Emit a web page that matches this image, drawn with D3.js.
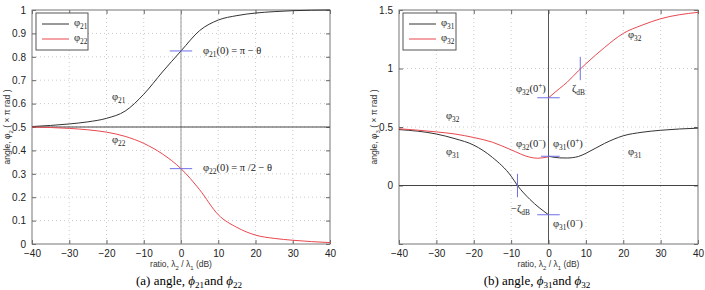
<!DOCTYPE html>
<meta charset="utf-8">
<style>
body { margin: 0; background: #fff; }
.tick text { font-family: "Liberation Sans", Arial, sans-serif; font-size: 10px; fill: #222; }
.lbl { font-family: "Liberation Serif", "Times New Roman", serif; font-size: 10.5px; fill: #222; }
.axl { font-family: "Liberation Sans", Arial, sans-serif; font-size: 8.5px; fill: #333; }
.cap { font-family: "Liberation Serif", "Times New Roman", serif; font-size: 13px; fill: #000; }
</style>
<svg width="705" height="290"></svg>
<script src="https://d3js.org/d3.v7.min.js"></script>
<script>

// ---- data ----
var xTicks = [-40, -30, -20, -10, 0, 10, 20, 30, 40];
var yTicksA = [0, 0.1, 0.2, 0.3, 0.4, 0.5, 0.6, 0.7, 0.8, 0.9, 1];
var yTickLabelsA = ["0", "0.1", "0.2", "0.3", "0.4", "0.5", "0.6", "0.7", "0.8", "0.9", "1"];
var yTicksB = [-0.5, 0, 0.5, 1, 1.5];
var yTickLabelsB = ["", "0", "0.5", "1", "1.5"];

// panel (a)
var dbA = [-40, -30, -25, -20, -15, -10, -5, 0, 5, 10, 15, 20, 25, 30, 40];
var phi21 = [0.502, 0.513, 0.522, 0.537, 0.568, 0.64, 0.735, 0.825, 0.912, 0.957, 0.976, 0.987, 0.993, 0.997, 1.0];
var phi22 = [0.5, 0.494, 0.488, 0.478, 0.46, 0.43, 0.385, 0.322, 0.232, 0.125, 0.071, 0.038, 0.024, 0.016, 0.006];

// panel (b), split at 0 dB
var dbNeg31 = [-40, -30, -25, -20, -15, -10, -8.3, -5, 0];
var phi31Neg = [0.478, 0.44, 0.40, 0.345, 0.24, 0.08, 0, -0.118, -0.25];
var dbNeg32 = [-40, -30, -25, -20, -15, -10, -5, -3, 0];
var phi32Neg = [0.485, 0.458, 0.44, 0.41, 0.37, 0.305, 0.242, 0.233, 0.245];
var dbPos = [0, 3, 5, 8, 10, 15, 20, 25, 30, 40];
var phi31Pos = [0.25, 0.236, 0.235, 0.248, 0.275, 0.36, 0.425, 0.455, 0.472, 0.49];
var phi32Pos = [0.75, 0.83, 0.883, 0.98, 1.04, 1.18, 1.30, 1.37, 1.425, 1.48];

var svg = d3.select("svg");

function zip(xs, ys) { return xs.map(function(x, i) { return [x, ys[i]]; }); }

// text with sub / superscripts: parts = [[str, mode]]
function rich(g, x, y, parts, cls, anchor) {
  var t = g.append("text").attr("class", cls).attr("x", x).attr("y", y)
    .attr("text-anchor", anchor || "start");
  var shift = 0;
  parts.forEach(function(p) {
    var target = p[1] === "sub" ? 3 : p[1] === "sup" ? -4 : 0;
    var ts = t.append("tspan").text(p[0]).attr("dy", target - shift);
    if (p[1] === "sub" || p[1] === "sup") ts.attr("font-size", "70%");
    if (p[1] === "i") ts.attr("font-style", "italic");
    shift = target;
  });
  return t;
}

function panel(opt) {
  var x = d3.scaleLinear().domain([-40, 40]).range([opt.x0, opt.x1]);
  var y = d3.scaleLinear().domain(opt.ydom).range([244, 10]);
  var g = svg.append("g");

  // dotted grid
  g.selectAll(".gx").data(xTicks.slice(1, -1)).enter().append("line")
    .attr("x1", d => x(d)).attr("x2", d => x(d)).attr("y1", 10).attr("y2", 244)
    .attr("stroke", "#ccc").attr("stroke-dasharray", "1,3");
  g.selectAll(".gy").data(opt.yticks.slice(1, -1)).enter().append("line")
    .attr("y1", d => y(d)).attr("y2", d => y(d)).attr("x1", opt.x0).attr("x2", opt.x1)
    .attr("stroke", "#ccc").attr("stroke-dasharray", "1,3");

  // axes with inside ticks
  var ax = d3.axisBottom(x).tickValues(xTicks).tickSizeInner(-4).tickSizeOuter(0).tickPadding(7);
  g.append("g").attr("transform", "translate(0,244)").call(ax);
  g.append("g").attr("transform", "translate(0,10)")
    .call(d3.axisTop(x).tickValues(xTicks).tickSizeInner(-4).tickSizeOuter(0).tickFormat(""));
  var ay = d3.axisLeft(y).tickValues(opt.yticks).tickSizeInner(-4).tickSizeOuter(0).tickPadding(6)
    .tickFormat((d, i) => opt.ylabels[i]);
  g.append("g").attr("transform", "translate(" + opt.x0 + ",0)").call(ay);
  g.append("g").attr("transform", "translate(" + opt.x1 + ",0)")
    .call(d3.axisRight(y).tickValues(opt.yticks).tickSizeInner(-4).tickSizeOuter(0).tickFormat(""));
  g.selectAll(".domain").remove();
  g.selectAll(".tick line").attr("stroke", "#666");
  g.selectAll(".tick text").filter(function() { return this.parentNode.parentNode.getAttribute("transform") === "translate(0,244)"; })
    .attr("dy", "0.55em");
  g.append("rect").attr("x", opt.x0).attr("y", 10).attr("width", opt.x1 - opt.x0).attr("height", 234)
    .attr("fill", "none").attr("stroke", "#777");

  // zero lines
  g.append("line").attr("x1", x(0)).attr("x2", x(0)).attr("y1", 10).attr("y2", 244)
    .attr("stroke", opt.vcol);
  g.append("line").attr("x1", opt.x0).attr("x2", opt.x1).attr("y1", y(opt.hline)).attr("y2", y(opt.hline))
    .attr("stroke", "#444");

  var line = d3.line().x(d => x(d[0])).y(d => y(d[1])).curve(d3.curveMonotoneX);
  opt.series.forEach(function(s) {
    g.append("path").attr("d", line(s.pts)).attr("fill", "none")
      .attr("stroke", s.color).attr("stroke-width", 1);
  });

  // blue markers
  opt.marks.forEach(function(m) {
    g.append("line").attr("stroke", "#6f6fe8").attr("stroke-width", 1)
      .attr("x1", x(m[0])).attr("x2", x(m[1])).attr("y1", y(m[2])).attr("y2", y(m[3]));
  });

  // legend
  var lg = g.append("g");
  lg.append("rect").attr("x", opt.x0 + 4).attr("y", 13).attr("width", opt.legW).attr("height", 37)
    .attr("fill", "#fff").attr("stroke", "#555");
  opt.legend.forEach(function(l, i) {
    var yy = 24 + i * 15;
    lg.append("line").attr("x1", opt.x0 + 10).attr("x2", opt.x0 + 37).attr("y1", yy).attr("y2", yy)
      .attr("stroke", l.color);
    rich(lg, opt.x0 + 42, yy + 2, l.parts, "lbl");
  });

  opt.labels.forEach(function(l) { rich(g, l[0], l[1], l[2], "lbl"); });

  // axis titles
  rich(g, x(0), 267, [["ratio,  λ", ""], ["2", "sub"], [" / λ", ""], ["1", "sub"], [" (dB)", ""]], "axl", "middle");
  var yl = rich(g, 0, 0, opt.ytitle, "axl", "middle");
  yl.attr("transform", "translate(" + (opt.x0 - 22) + ",127) rotate(-90)");

  // caption
  rich(g, opt.capX, 285, opt.caption, "cap", "middle");
}

panel({
  x0: 32, x1: 330, ydom: [0, 1], yticks: yTicksA, ylabels: yTickLabelsA,
  vcol: "#999", hline: 0.5, legW: 52,
  series: [{pts: zip(dbA, phi21), color: "#333"}, {pts: zip(dbA, phi22), color: "#e8484f"}],
  marks: [[-3, 3, 0.825, 0.825], [-3, 3, 0.322, 0.322]],
  legend: [{color: "#333", parts: [["φ", ""], ["21", "sub"]]}, {color: "#e8484f", parts: [["φ", ""], ["22", "sub"]]}],
  labels: [
    [112, 100, [["φ", ""], ["21", "sub"]]],
    [112, 143, [["φ", ""], ["22", "sub"]]],
    [203, 54, [["φ", ""], ["21", "sub"], ["(0) = π − θ", ""]]],
    [203, 171, [["φ", ""], ["22", "sub"], ["(0) = π /2 − θ", ""]]]
  ],
  ytitle: [["angle,  φ", ""], ["2", "sub"], [" ( × π rad )", ""]],
  capX: 189,
  caption: [["(a)  angle,  ", ""], ["ϕ", "i"], ["21", "sub"], ["and  ", ""], ["ϕ", "i"], ["22", "sub"]]
});

panel({
  x0: 399, x1: 698, ydom: [-0.5, 1.5], yticks: yTicksB, ylabels: yTickLabelsB,
  vcol: "#555", hline: 0, legW: 53,
  series: [
    {pts: zip(dbNeg31, phi31Neg), color: "#333"}, {pts: zip(dbPos, phi31Pos), color: "#333"},
    {pts: zip(dbNeg32, phi32Neg), color: "#e8484f"}, {pts: zip(dbPos, phi32Pos), color: "#e8484f"}
  ],
  marks: [[-3, 3, 0.75, 0.75], [-2, 3, 0.25, 0.25], [-3, 3, -0.25, -0.25], [8.5, 8.5, 0.9, 1.1], [-8.3, -8.3, -0.1, 0.1]],
  legend: [{color: "#333", parts: [["φ", ""], ["31", "sub"]]}, {color: "#e8484f", parts: [["φ", ""], ["32", "sub"]]}],
  labels: [
    [446, 119, [["φ", ""], ["32", "sub"]]],
    [446, 155, [["φ", ""], ["31", "sub"]]],
    [516, 92, [["φ", ""], ["32", "sub"], ["(0", ""], ["+", "sup"], [")", ""]]],
    [572, 92, [["ζ", ""], ["dB", "sub"]]],
    [628, 38, [["φ", ""], ["32", "sub"]]],
    [516, 147, [["φ", ""], ["32", "sub"], ["(0", ""], ["−", "sup"], [")", ""]]],
    [553, 147, [["φ", ""], ["31", "sub"], ["(0", ""], ["+", "sup"], [")", ""]]],
    [628, 155, [["φ", ""], ["31", "sub"]]],
    [511, 212, [["−ζ", ""], ["dB", "sub"]]],
    [553, 227, [["φ", ""], ["31", "sub"], ["(0", ""], ["−", "sup"], [")", ""]]]
  ],
  ytitle: [["angle,  φ", ""], ["3", "sub"], [" ( × π rad )", ""]],
  capX: 537,
  caption: [["(b)  angle,  ", ""], ["ϕ", "i"], ["31", "sub"], ["and  ", ""], ["ϕ", "i"], ["32", "sub"]]
});
</script>
